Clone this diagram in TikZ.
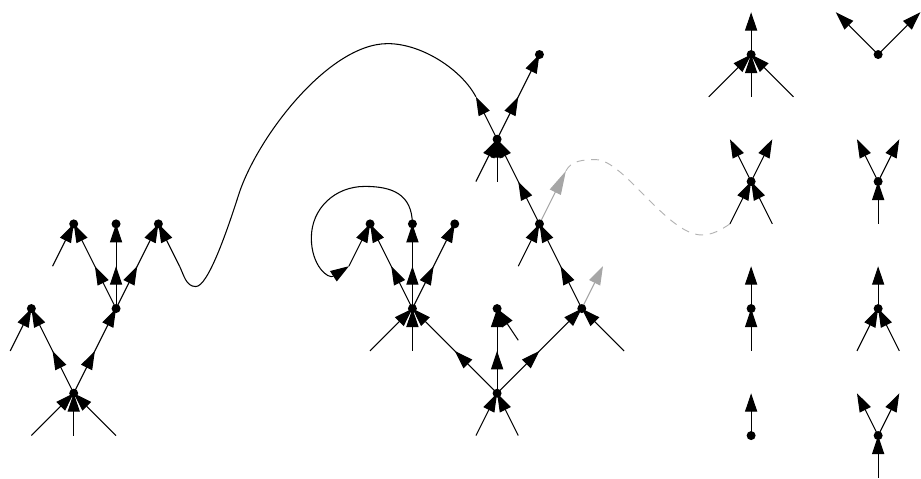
\documentclass[tikz,border=0pt]{standalone}
\usetikzlibrary{arrows.meta,decorations.markings}
\pgfdeclarelayer{bg}
\pgfsetlayers{bg,main}
\tikzset{
 >={Triangle[length=14pt,width=9.2pt]},
 conn/.style={line width=0.8pt,->,postaction={decorate},decoration={markings,mark=at position 0.5 with {\arrow{>}}}},
 leg/.style={line width=0.8pt,->},
 bare/.style={line width=0.8pt},
 gleg/.style={line width=0.8pt,->,color=black!35},
 glegl/.style={line width=0.8pt,-{Triangle[length=18pt,width=9.2pt]},color=black!35},
 dot/.style={circle,fill=black,inner sep=0pt,minimum size=6.8pt},
 dashcurve/.style={draw=black!30,line width=0.7pt,dash pattern=on 6pt off 5pt},
 px/.style={x=0.75pt,y=-0.75pt,shift={(-10.3,-55)}},
}
\begin{document}
\begin{tikzpicture}[x=16.0125pt,y=-32.025pt]
\begin{scope}[px]
\useasboundingbox (0,0) rectangle (921,480);
\end{scope}
% ---------- left tree
\node[dot] (L0) at (3,8) {};
\node[dot] (A) at (1,6) {};
\node[dot] (B) at (5,6) {};
\node[dot] (C1) at (3,4) {};
\node[dot] (C2) at (5,4) {};
\node[dot] (C3) at (7,4) {};
\coordinate (L0i1) at (1,9);
\coordinate (L0i2) at (3,9);
\coordinate (L0i3) at (5,9);
\coordinate (Ai) at (0,7);
\coordinate (C1i) at (2,5);
\coordinate (C3i) at (8,5);
% ---------- middle tree
\node[dot] (R) at (23,8) {};
\node[dot] (P) at (19,6) {};
\node[dot] (Q) at (23,6) {};
\node[dot] (S) at (27,6) {};
\node[dot] (T) at (25,4) {};
\node[dot] (M) at (23,2) {};
\node[dot] (N) at (25,0) {};
\node[dot] (P1) at (17,4) {};
\node[dot] (P2) at (19,4) {};
\node[dot] (P3) at (21,4) {};
\coordinate (Ri1) at (22,9);
\coordinate (Ri2) at (24,9);
\coordinate (Pi1) at (17,7);
\coordinate (Pi2) at (19,7);
\coordinate (Qi) at (24,6.75);
\coordinate (Si) at (29,7);
\coordinate (Ti) at (24,5);
\coordinate (Mi1) at (22,3);
\coordinate (Mi2) at (23,3);
\coordinate (P1i) at (16,5);
\coordinate (Mo) at (22,1);
\coordinate (So) at (28,5);
\coordinate (To) at (26.25,2.75);
% ---------- right column
\node[dot] (Ua) at (35,0) {};
\node[dot] (Ub) at (41,0) {};
\node[dot] (Va) at (35,3) {};
\node[dot] (Vb) at (41,3) {};
\node[dot] (Wa) at (35,6) {};
\node[dot] (Wb) at (41,6) {};
\node[dot] (Xa) at (35,9) {};
\node[dot] (Xb) at (41,9) {};
\coordinate (Uao) at (35,-1);
\coordinate (Uai1) at (33,1);
\coordinate (Uai2) at (35,1);
\coordinate (Uai3) at (37,1);
\coordinate (Ubo1) at (39,-1);
\coordinate (Ubo2) at (43,-1);
\coordinate (Vao1) at (34,2);
\coordinate (Vao2) at (36,2);
\coordinate (Vai1) at (34,4);
\coordinate (Vai2) at (36,4);
\coordinate (Vbo1) at (40,2);
\coordinate (Vbo2) at (42,2);
\coordinate (Vbi) at (41,4);
\coordinate (Wao) at (35,5);
\coordinate (Wai) at (35,7);
\coordinate (Wbo) at (41,5);
\coordinate (Wbi1) at (40,7);
\coordinate (Wbi2) at (42,7);
\coordinate (Xao) at (35,8);
\coordinate (Xbo1) at (40,8);
\coordinate (Xbo2) at (42,8);
\coordinate (Xbi) at (41,10);
\begin{pgfonlayer}{bg}
% left tree
\draw[leg] (L0i1) -- (L0.center);
\draw[leg] (L0i2) -- (L0.center);
\draw[leg] (L0i3) -- (L0.center);
\draw[leg] (Ai) -- (A.center);
\draw[leg] (C1i) -- (C1.center);
\draw[leg] (C3i) -- (C3.center);
\draw[conn] (L0.center) -- (A.center);
\draw[conn] (L0.center) -- (B.center);
\draw[conn] (B.center) -- (C1.center);
\draw[conn] (B.center) -- (C2.center);
\draw[conn] (B.center) -- (C3.center);
% middle tree
\draw[leg] (Ri1) -- (R.center);
\draw[leg] (Ri2) -- (R.center);
\draw[leg] (Pi1) -- (P.center);
\draw[leg] (Pi2) -- (P.center);
\draw[leg] (Qi) -- (Q.center);
\draw[leg] (Si) -- (S.center);
\draw[leg] (Ti) -- (T.center);
\draw[leg] (Mi1) -- (M.center);
\draw[leg] (Mi2) -- (M.center);
\draw[leg] (P1i) -- (P1.center);
\draw[conn] (R.center) -- (P.center);
\draw[conn] (R.center) -- (Q.center);
\draw[conn] (R.center) -- (S.center);
\draw[conn] (P.center) -- (P1.center);
\draw[conn] (P.center) -- (P2.center);
\draw[conn] (P.center) -- (P3.center);
\draw[conn] (S.center) -- (T.center);
\draw[conn] (T.center) -- (M.center);
\draw[conn] (M.center) -- (N.center);
\draw[leg] (M.center) -- (Mo);
\draw[gleg] (S.center) -- (So);
\draw[glegl] (T.center) -- (To);
% right column
\draw[leg] (Ua.center) -- (Uao);
\draw[leg] (Uai1) -- (Ua.center);
\draw[leg] (Uai2) -- (Ua.center);
\draw[leg] (Uai3) -- (Ua.center);
\draw[leg] (Ub.center) -- (Ubo1);
\draw[leg] (Ub.center) -- (Ubo2);
\draw[leg] (Va.center) -- (Vao1);
\draw[leg] (Va.center) -- (Vao2);
\draw[leg] (Vai1) -- (Va.center);
\draw[leg] (Vai2) -- (Va.center);
\draw[leg] (Vb.center) -- (Vbo1);
\draw[leg] (Vb.center) -- (Vbo2);
\draw[leg] (Vbi) -- (Vb.center);
\draw[leg] (Wa.center) -- (Wao);
\draw[leg] (Wai) -- (Wa.center);
\draw[leg] (Wb.center) -- (Wbo);
\draw[leg] (Wbi1) -- (Wb.center);
\draw[leg] (Wbi2) -- (Wb.center);
\draw[leg] (Xa.center) -- (Xao);
\draw[leg] (Xb.center) -- (Xbo1);
\draw[leg] (Xb.center) -- (Xbo2);
\draw[leg] (Xbi) -- (Xb.center);
% curves
\begin{scope}[px]
\draw[bare] (Mo) .. controls (466,70.9) and (426,44) .. (391,44)
  .. controls (331,44) and (258.5,139.8) .. (240.5,197)
  .. controls (228.3,235.1) and (209.5,289) .. (197.5,289)
  .. controls (187.5,289) and (185.5,277.4) .. (C3i);
\draw[bare,->] (P2.center) .. controls (415.5,196) and (396,188) .. (368,188)
  .. controls (338,188) and (314,210) .. (314,240)
  .. controls (314,268) and (331,282) .. (P1i);
\draw[dashcurve] (To) .. controls (576,161.7) and (589,161) .. (601,161)
  .. controls (629,161) and (673,237) .. (708,237)
  .. controls (718,237) and (727,232) .. (Vai1);
\end{scope}
\end{pgfonlayer}
\end{tikzpicture}
\end{document}
